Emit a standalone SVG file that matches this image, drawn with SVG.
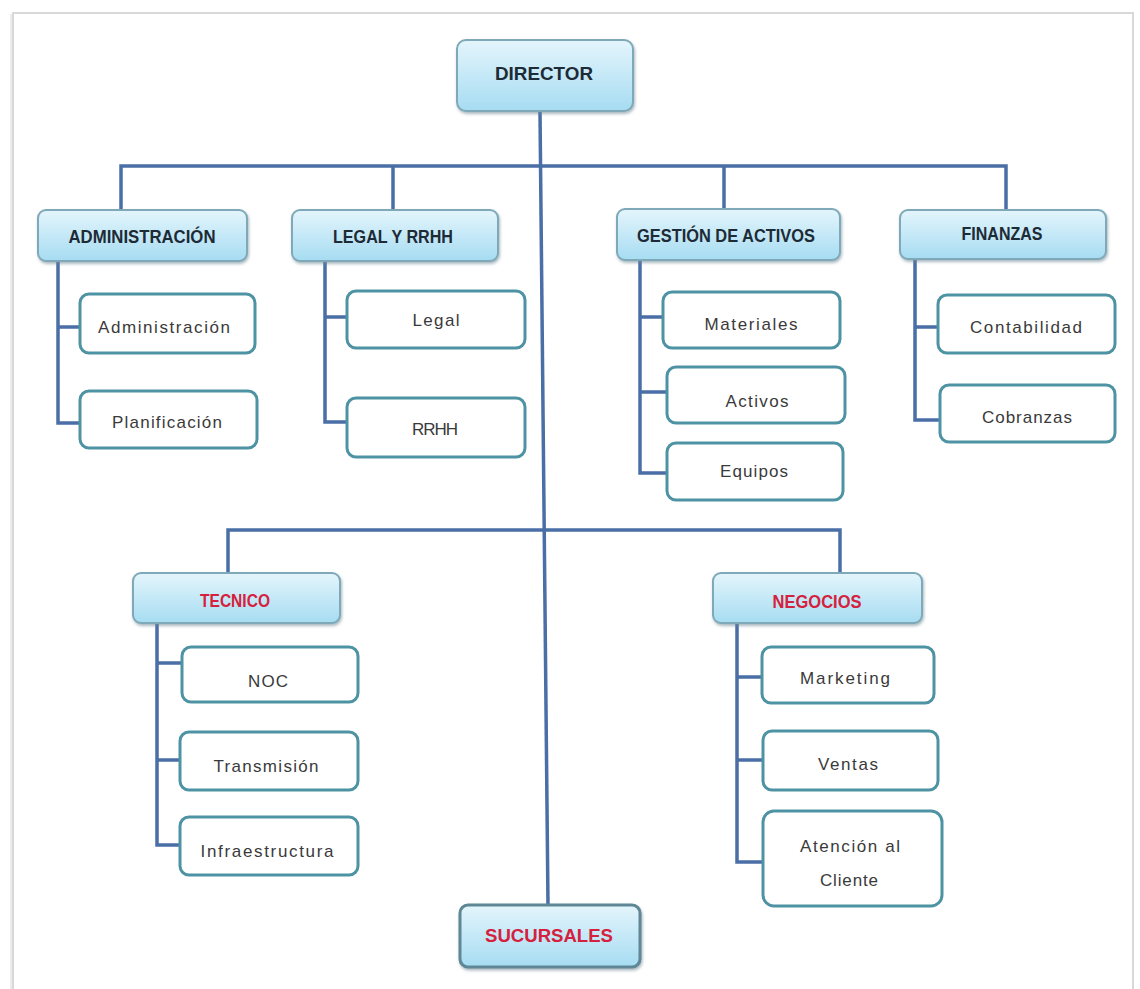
<svg xmlns="http://www.w3.org/2000/svg" width="1140" height="989" viewBox="0 0 1140 989">
<defs>
<linearGradient id="hg" x1="0" y1="0" x2="0" y2="1">
<stop offset="0" stop-color="#e4f5fc"/>
<stop offset="1" stop-color="#a6dcf2"/>
</linearGradient>
<filter id="sh" x="-10%" y="-20%" width="120%" height="150%">
<feDropShadow dx="1" dy="2" stdDeviation="1.5" flood-color="#6f8a96" flood-opacity="0.6"/>
</filter>
</defs>
<style>
.hdr{fill:url(#hg);stroke:#7fa9b9;stroke-width:2;filter:url(#sh)}
.sub{fill:#ffffff;stroke:#4e93a4;stroke-width:3}
.ht{font-family:"Liberation Sans",Arial,sans-serif;font-weight:bold;font-size:19px;fill:#1d2b36;text-anchor:middle}
.red{fill:#d5213d}
.st{font-family:"Liberation Sans",Arial,sans-serif;font-size:17px;fill:#3a3a3a;text-anchor:middle}
.cn{fill:none;stroke:#4a6ea6;stroke-width:3.5}
</style>
<rect x="0" y="0" width="1140" height="989" fill="#ffffff"/>
<path d="M13 989 V13 H1133 V989" fill="none" stroke="#d8d8d8" stroke-width="2"/>
<line x1="11" y1="14" x2="11" y2="989" stroke="#ececec" stroke-width="2"/>

<g id="connectors" class="cn">
<line x1="540" y1="112" x2="548" y2="905"/>
<path d="M121 230 V166 H1006 V210"/>
<line x1="393" y1="166" x2="393" y2="210"/>
<line x1="724" y1="166" x2="724" y2="210"/>
<path d="M228 573 V530 H840 V573"/>
<path d="M58 262 V423 H80 M58 327 H80"/>
<path d="M325 262 V422 H347 M325 317 H347"/>
<path d="M640 260 V473 H667 M640 317 H663 M640 392 H667"/>
<path d="M915 260 V420 H940 M915 327 H938"/>
<path d="M157 623 V845 H180 M157 663 H182 M157 760 H180"/>
<path d="M737 623 V862 H763 M737 677 H762 M737 760 H763"/>
</g>

<g id="director"><rect class="hdr" x="457" y="40" width="176" height="71" rx="9"/><text class="ht" x="544" y="80" font-size="23" textLength="98" lengthAdjust="spacingAndGlyphs">DIRECTOR</text></g>

<g id="administracion"><rect class="hdr" x="38" y="210" width="209" height="51" rx="8"/><text class="ht" x="142" y="243" textLength="147" lengthAdjust="spacingAndGlyphs">ADMINISTRACIÓN</text></g>
<g id="legal-rrhh"><rect class="hdr" x="292" y="210" width="206" height="51" rx="8"/><text class="ht" x="393" y="243" textLength="120" lengthAdjust="spacingAndGlyphs">LEGAL Y RRHH</text></g>
<g id="gestion-activos"><rect class="hdr" x="617" y="209" width="223" height="51" rx="8"/><text class="ht" x="726" y="242" textLength="178" lengthAdjust="spacingAndGlyphs">GESTIÓN DE ACTIVOS</text></g>
<g id="finanzas"><rect class="hdr" x="900" y="210" width="206" height="49" rx="8"/><text class="ht" x="1002" y="240" textLength="81" lengthAdjust="spacingAndGlyphs">FINANZAS</text></g>

<g id="sub-administracion"><rect class="sub" x="80" y="294" width="175" height="59" rx="9"/><text class="st" x="164" y="333" textLength="132">Administración</text></g>
<g id="sub-planificacion"><rect class="sub" x="80" y="391" width="177" height="57" rx="9"/><text class="st" x="167" y="428" textLength="110">Planificación</text></g>
<g id="sub-legal"><rect class="sub" x="347" y="291" width="178" height="57" rx="9"/><text class="st" x="436" y="326" textLength="47">Legal</text></g>
<g id="sub-rrhh"><rect class="sub" x="347" y="398" width="178" height="59" rx="9"/><text class="st" x="435" y="435" textLength="46">RRHH</text></g>
<g id="sub-materiales"><rect class="sub" x="663" y="292" width="177" height="56" rx="9"/><text class="st" x="751" y="330" textLength="93">Materiales</text></g>
<g id="sub-activos"><rect class="sub" x="667" y="367" width="178" height="56" rx="9"/><text class="st" x="757" y="407" textLength="63">Activos</text></g>
<g id="sub-equipos"><rect class="sub" x="667" y="443" width="176" height="57" rx="9"/><text class="st" x="754" y="477" textLength="68">Equipos</text></g>
<g id="sub-contabilidad"><rect class="sub" x="938" y="295" width="177" height="58" rx="9"/><text class="st" x="1026" y="333" textLength="112">Contabilidad</text></g>
<g id="sub-cobranzas"><rect class="sub" x="940" y="385" width="175" height="57" rx="9"/><text class="st" x="1027" y="423" textLength="90">Cobranzas</text></g>

<g id="tecnico"><rect class="hdr" x="133" y="573" width="207" height="50" rx="8"/><text class="ht red" x="235" y="607" font-size="16" textLength="70" lengthAdjust="spacingAndGlyphs">TECNICO</text></g>
<g id="negocios"><rect class="hdr" x="713" y="573" width="209" height="50" rx="8"/><text class="ht red" x="817" y="608" font-size="17" textLength="89" lengthAdjust="spacingAndGlyphs">NEGOCIOS</text></g>

<g id="sub-noc"><rect class="sub" x="182" y="647" width="176" height="55" rx="9"/><text class="st" x="268" y="687" textLength="40">NOC</text></g>
<g id="sub-transmision"><rect class="sub" x="180" y="732" width="178" height="58" rx="9"/><text class="st" x="266" y="772" textLength="105">Transmisión</text></g>
<g id="sub-infraestructura"><rect class="sub" x="180" y="817" width="178" height="58" rx="9"/><text class="st" x="267" y="857" textLength="133">Infraestructura</text></g>
<g id="sub-marketing"><rect class="sub" x="762" y="647" width="172" height="56" rx="9"/><text class="st" x="845" y="684" textLength="90">Marketing</text></g>
<g id="sub-ventas"><rect class="sub" x="763" y="731" width="175" height="59" rx="9"/><text class="st" x="848" y="770" textLength="60">Ventas</text></g>
<g id="sub-atencion"><rect class="sub" x="763" y="811" width="179" height="95" rx="11"/><text class="st" x="850" y="852" textLength="100">Atención al</text><text class="st" x="849" y="886" textLength="58">Cliente</text></g>

<g id="sucursales"><rect class="hdr" x="460" y="905" width="180" height="62" rx="8" style="stroke:#5f8795;stroke-width:3"/><text class="ht red" x="549" y="942" font-size="22" textLength="128" lengthAdjust="spacingAndGlyphs">SUCURSALES</text></g>
</svg>
